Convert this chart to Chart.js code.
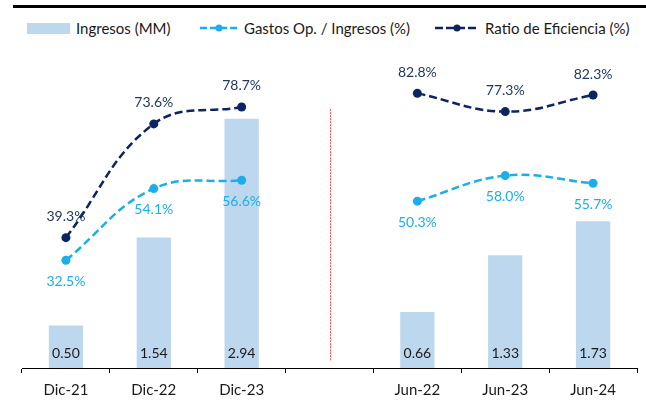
<!DOCTYPE html>
<html>
<head>
<meta charset="utf-8">
<script src="https://cdn.jsdelivr.net/npm/chart.js@4.4.1/dist/chart.umd.min.js"></script>
<style>
  html, body { margin: 0; padding: 0; background: #fff; }
  body { width: 646px; height: 401px; position: relative; overflow: hidden; font-family: Lato, 'Open Sans', sans-serif; }
  #topRule { position: absolute; left: 13px; right: 0; top: 5px; height: 3px; background: #000; }
  .legend { position: absolute; top: 19px; height: 18px; display: flex; align-items: center; font-size: 15px; color: #1a1a1a; white-space: nowrap; }
  .legend svg { margin-right: 6px; }
  .wrap { position: absolute; left: 0; top: 0; width: 646px; height: 401px; }
</style>
</head>
<body>
<div id="topRule"></div>
<div class="legend" style="left:27px">
  <svg width="43" height="11"><rect x="0" y="0" width="43" height="11" fill="#BDD7EE"/></svg>Ingresos (MM)
</div>
<div class="legend" style="left:200px">
  <svg width="38" height="10"><line x1="0" y1="5" x2="38" y2="5" stroke="#1BAEEA" stroke-width="2.5" stroke-dasharray="7,3"/><circle cx="19" cy="5" r="3.5" fill="#1BAEEA"/></svg>Gastos Op. / Ingresos (%)
</div>
<div class="legend" style="left:435px">
  <svg width="44" height="10"><line x1="0" y1="5" x2="44" y2="5" stroke="#0B2462" stroke-width="2.5" stroke-dasharray="8,3"/><circle cx="22" cy="5" r="3.5" fill="#0B2462"/></svg>Ratio de Eficiencia (%)
</div>
<div class="wrap"><canvas id="chart" width="646" height="401"></canvas></div>

<script>
// ── Data ──────────────────────────────────────────────
const periods   = ['Dic-21', 'Dic-22', 'Dic-23', '', 'Jun-22', 'Jun-23', 'Jun-24'];
const ingresos  = [0.50, 1.54, 2.94, null, 0.66, 1.33, 1.73];
const gastosOp  = [32.5, 54.1, 56.6, null, 50.3, 58.0, 55.7];
const eficiencia = [39.3, 73.6, 78.7, null, 82.8, 77.3, 82.3];

const BAR_COLOR = '#BDD7EE';
const GASTOS_COLOR = '#1BAEEA';
const RATIO_COLOR = '#0B2462';

// ── Value labels + divider ────────────────────────────
const labelsPlugin = {
  id: 'valueLabels',
  afterDatasetsDraw(chart) {
    const { ctx, scales } = chart;
    ctx.save();
    ctx.font = "14px Lato, 'Open Sans', sans-serif";
    ctx.textAlign = 'center';
    ctx.textBaseline = 'middle';

    chart.data.datasets.forEach((ds, di) => {
      const meta = chart.getDatasetMeta(di);
      meta.data.forEach((el, i) => {
        const v = ds.data[i];
        if (v === null || v === undefined) return;
        if (ds.type === 'bar') {
          ctx.fillStyle = '#1a1a1a';
          ctx.fillText(v.toFixed(2), el.x, scales.x.top - 15);
        } else {
          ctx.fillStyle = ds.labelColor;
          const dy = ds.labelPos === 'above' ? -21 : 21;
          ctx.fillText(v.toFixed(1) + '%', el.x, el.y + dy);
        }
      });
    });

    // dotted red separator in the empty slot
    const x = Math.round(scales.x.getPixelForValue(3)) + 0.5;
    ctx.strokeStyle = '#FF4B4B';
    ctx.lineWidth = 1;
    ctx.setLineDash([2, 1]);
    ctx.beginPath();
    ctx.moveTo(x, scales.yPct.getPixelForValue(78));
    ctx.lineTo(x, scales.yPct.getPixelForValue(2));
    ctx.stroke();
    ctx.restore();
  },
};

new Chart(document.getElementById('chart'), {
  data: {
    labels: periods,
    datasets: [
      {
        type: 'line',
        label: 'Ratio de Eficiencia (%)',
        data: eficiencia,
        yAxisID: 'yPct',
        borderColor: RATIO_COLOR,
        backgroundColor: RATIO_COLOR,
        borderWidth: 2.5,
        borderDash: [8, 4],
        pointRadius: 4.5,
        pointBorderWidth: 0,
        tension: 0.4,
        spanGaps: false,
        labelColor: '#1F3864',
        labelPos: 'above',
        order: 0,
      },
      {
        type: 'line',
        label: 'Gastos Op. / Ingresos (%)',
        data: gastosOp,
        yAxisID: 'yPct',
        borderColor: GASTOS_COLOR,
        backgroundColor: GASTOS_COLOR,
        borderWidth: 2.5,
        borderDash: [8, 4],
        pointRadius: 4.5,
        pointBorderWidth: 0,
        tension: 0.4,
        spanGaps: false,
        labelColor: '#1BAEEA',
        labelPos: 'below',
        order: 1,
      },
      {
        type: 'bar',
        label: 'Ingresos (MM)',
        data: ingresos,
        yAxisID: 'y',
        backgroundColor: BAR_COLOR,
        borderWidth: 0,
        categoryPercentage: 1,
        barPercentage: 0.39,
        order: 2,
      },
    ],
  },
  options: {
    responsive: false,
    animation: false,
    layout: { padding: { left: 22, right: 9, top: 33, bottom: -6 } },
    plugins: { legend: { display: false }, tooltip: { enabled: false } },
    scales: {
      x: {
        offset: true,
        grid: {
          offset: true,
          drawOnChartArea: false,
          drawTicks: true,
          tickLength: 5,
          color: '#000',
        },
        border: { color: '#000', width: 1 },
        ticks: {
          color: '#1a1a1a',
          font: { family: "Lato, 'Open Sans', sans-serif", size: 15 },
          padding: 8,
          maxRotation: 0,
        },
      },
      y: { display: false, min: 0, max: 3.95 },
      yPct: { display: false, min: 0, max: 101, position: 'right' },
    },
  },
  plugins: [labelsPlugin],
});
</script>
</body>
</html>
